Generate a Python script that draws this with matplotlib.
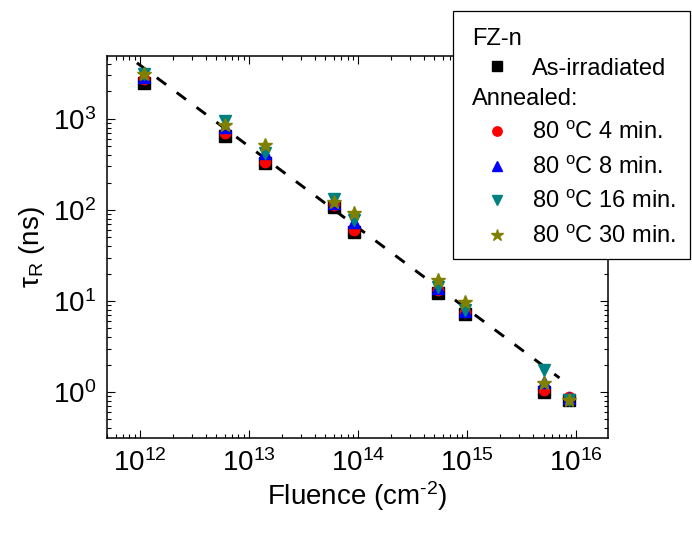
"""
Recombination lifetime vs fluence, FZ-n, annealing steps at 80 C.
"""

import matplotlib
matplotlib.use('Agg')
import matplotlib.pyplot as plt
from matplotlib.patches import Rectangle

plt.rcParams['font.family'] = ['Liberation Sans', 'DejaVu Sans']
plt.rcParams['mathtext.fontset'] = 'custom'
plt.rcParams['mathtext.rm'] = 'Liberation Sans'
plt.rcParams['mathtext.it'] = 'Liberation Sans:italic'
plt.rcParams['mathtext.bf'] = 'Liberation Sans:bold'

# Fluence (cm^-2) of the irradiated samples
fluence = [1.1e12, 6.0e12, 1.4e13, 6.0e13, 9.2e13, 5.4e14, 9.6e14, 5.0e15, 8.5e15]

# tau_R (ns) for each annealing state
tau_as_irr = [2500, 650, 328, 108, 57, 12.2, 7.2, 1.00, 0.82]
tau_4min = [2750, 700, 336, 113, 60, 13.2, 7.6, 1.05, 0.88]
tau_8min = [2900, 815, 420, 119, 74, 13.9, 7.8, 1.29, 0.86]
tau_16min = [3100, 950, 425, 132, 78, 14.2, 8.0, 1.75, 0.82]
tau_30min = [3100, 860, 520, 122, 93, 17.0, 9.7, 1.25, 0.82]

# power-law fit line, end points
fit_fluence = [9.4e11, 7.0e15]
fit_tau = [4120, 1.43]

fig = plt.figure(figsize=(6.92, 5.34), dpi=100)
ax = fig.add_axes([107 / 692, 1 - 438 / 534, 501 / 692, 382 / 534])

ax.plot(fit_fluence, fit_tau, color='black', linestyle=(0, (4, 4.5)), linewidth=2.1, zorder=1)

h0, = ax.plot(fluence, tau_as_irr, 's', color='black', ms=8, linestyle='none', zorder=2)
h1, = ax.plot(fluence, tau_4min, 'o', color='#ff0000', ms=7.5, linestyle='none', zorder=3)
h2, = ax.plot(fluence, tau_8min, '^', color='#0000ff', ms=8, linestyle='none', zorder=4)
h3, = ax.plot(fluence, tau_16min, 'v', color='#008080', ms=8, linestyle='none', zorder=5)
h4, = ax.plot(fluence, tau_30min, '*', color='#808000', ms=10, linestyle='none', zorder=6)

ax.set_xscale('log')
ax.set_yscale('log')
ax.set_xlim(5.0e11, 1.95e16)
ax.set_ylim(0.313, 4900)

ax.tick_params(which='both', direction='in', top=True, right=True, labelsize=20, width=0.8)
ax.tick_params(which='major', length=6, pad=8)
ax.tick_params(which='minor', length=3)
for sp in ax.spines.values():
    sp.set_linewidth(1.1)

ax.set_xlabel(r'Fluence (cm$^{\text{-2}}$)', fontsize=20, labelpad=2)
ax.set_ylabel(r'$\mathrm{\tau}_{\mathrm{R}}$ (ns)', fontsize=20, labelpad=4)

# legend: two stacked parts inside one white frame that hides the axes corner
frame = Rectangle((453 / 692, 1 - 259 / 534), 237 / 692, 248 / 534,
                  transform=fig.transFigure, facecolor='white', edgecolor='black',
                  linewidth=0.9, zorder=20, clip_on=False)
ax.add_patch(frame)

leg_kw = dict(frameon=False, fontsize=17, title_fontsize=17, alignment='left',
              loc='upper left', bbox_transform=fig.transFigure, borderpad=0,
              borderaxespad=0, handlelength=2.12, handletextpad=0.42,
              markerscale=0.9)
leg1 = ax.legend([h0], ['As-irradiated'], title='FZ-n', labelspacing=0.32,
                 bbox_to_anchor=(472 / 692, 1 - 28 / 534), **leg_kw)
leg1.set_zorder(30)
ax.add_artist(leg1)
leg2 = ax.legend([h1, h2, h3, h4],
                 ['80 $^{\\mathrm{o}}$C 4 min.', '80 $^{\\mathrm{o}}$C 8 min.',
                  '80 $^{\\mathrm{o}}$C 16 min.', '80 $^{\\mathrm{o}}$C 30 min.'],
                 title='Annealed:', labelspacing=0.52,
                 bbox_to_anchor=(472 / 692, 1 - 88 / 534), **leg_kw)
leg2.set_zorder(30)

fig.savefig('out.png', dpi=100)
